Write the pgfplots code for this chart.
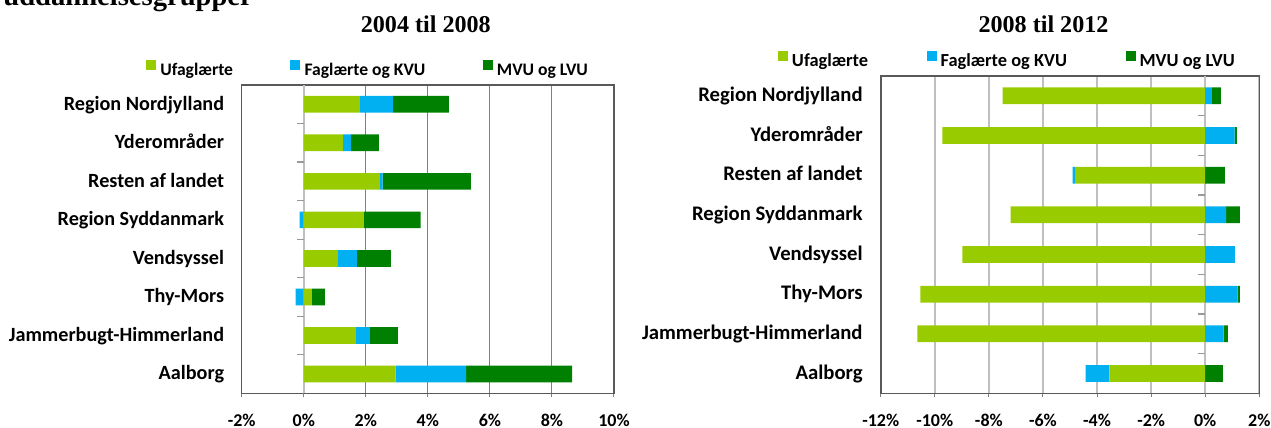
\documentclass[border=0pt]{standalone}
\usepackage{fontspec}
\setmainfont{Carlito}
\newfontfamily\serifbf{Liberation Serif}
\usepackage{pgfplots}
\usepackage{pgfplotstable}
\pgfplotsset{compat=1.18}
\definecolor{cU}{RGB}{153,204,0}
\definecolor{cF}{RGB}{0,176,240}
\definecolor{cM}{RGB}{0,128,0}
\definecolor{bordc}{RGB}{89,89,89}

% idx: 0 = Region Nordjylland ... 7 = Aalborg ; l = Ufaglaerte, b = Faglaerte og KVU, d = MVU og LVU (pct)
\pgfplotstableread{
idx l b d
0 1.81 1.06 1.81
1 1.26 0.26 0.90
2 2.45 0.09 2.85
3 1.94 -0.13 1.83
4 1.10 0.61 1.10
5 0.26 -0.26 0.42
6 1.68 0.45 0.90
7 2.96 2.27 3.42
}\leftdata

\pgfplotstableread{
idx l b d
0 -7.49 0.25 0.33
1 -9.72 1.09 0.08
2 -4.81 -0.09 0.73
3 -7.20 0.77 0.51
4 -8.98 1.10 0.00
5 -10.53 1.20 0.08
6 -10.64 0.68 0.16
7 -3.54 -0.88 0.65
}\rightdata

\pgfplotsset{
  mybars/.style={
    scale only axis, anchor=south west,
    xbar stacked, stack negative=separate, bar width=8.35pt, bar shift=0pt,
    enlargelimits=false,
    y dir=reverse, ymin=-0.5, ymax=7.5, ytick={0,...,7},
    yticklabels={Region Nordjylland,Yderområder,Resten af landet,Region Syddanmark,Vendsyssel,Thy-Mors,Jammerbugt-Himmerland,Aalborg},
    ytick style={draw=none},
    xtick pos=lower, tick align=outside, major tick length=2pt,
    xtick style={draw=black!50, line width=0.5pt},
    axis line style={draw=bordc, line width=0.8pt},
    xmajorgrids,
    extra x ticks={0}, extra x tick labels={},
    extra x tick style={grid=major, major grid style={draw=black!25, line width=1.1pt}},
    xticklabel style={anchor=base, inner sep=0pt, yshift=-14.35pt, font=\fontsize{9}{10}\selectfont\bfseries},
    legend columns=3,
    legend image code/.code={\fill[##1] (0pt,0.3pt) rectangle (5pt,5.3pt);},
  },
  segm/.style={draw=none, fill=#1, forget plot},
}

\newcommand{\bars}[1]{%
  \addplot[segm=cU] table[y=idx, x=l] {#1};
  \addplot[segm=cF] table[y=idx, x=b] {#1};
  \addplot[segm=cM] table[y=idx, x=d] {#1};
  \pgfplotsinvokeforeach{0.5,1.5,2.5,3.5,4.5,5.5,6.5}{\draw[black!40, line width=0.6pt] (axis cs:0,##1) -- ++(-3.5pt,0pt);}
}

\begin{document}
\begin{tikzpicture}
\path[use as bounding box] (0pt,0pt) rectangle (635.5pt,214pt);

\node[font=\serifbf\bfseries\fontsize{14.3}{16}\selectfont, anchor=base east, inner sep=0pt] at (126.65pt,211pt) {uddannelsesgrupper};
\node[font=\serifbf\bfseries\fontsize{12.05}{14}\selectfont, anchor=base, inner sep=0pt] at (212.9pt,197.85pt) {2004 til 2008};
\node[font=\serifbf\bfseries\fontsize{12.05}{14}\selectfont, anchor=base, inner sep=0pt] at (521.75pt,197.85pt) {2008 til 2012};

\begin{axis}[mybars,
  at={(120.85pt,17.35pt)}, width=186.15pt, height=154.15pt,
  xmin=-2, xmax=10, xtick={-2,0,2,4,6,8,10},
  xticklabels={-2\%,0\%,2\%,4\%,6\%,8\%,10\%},
  major grid style={draw=black!50, line width=0.5pt},
  yticklabel style={anchor=base east, inner sep=0pt, xshift=-6.6pt, yshift=-2.9pt, font=\fontsize{10.1}{11}\selectfont\bfseries},
  legend style={at={(-0.2571,1.0503)}, anchor=west, draw=none, fill=none, inner sep=0pt, outer sep=0pt,
    font=\fontsize{8.8}{10}\selectfont\bfseries, nodes={inner sep=0pt},
    /tikz/every odd column/.append style={column sep=2.15pt},
    /tikz/every even column/.append style={column sep=28.6pt}},
]
\addlegendimage{fill=cU, draw=none}\addlegendentry{Ufaglærte}
\addlegendimage{fill=cF, draw=none}\addlegendentry{Faglærte og KVU}
\addlegendimage{fill=cM, draw=none}\addlegendentry{MVU og LVU}
\bars{\leftdata}
\end{axis}

\begin{axis}[mybars,
  at={(440.35pt,17.35pt)}, width=189.3pt, height=158.65pt,
  xmin=-12, xmax=2, xtick={-12,-10,-8,-6,-4,-2,0,2},
  xticklabels={-12\%,-10\%,-8\%,-6\%,-4\%,-2\%,0\%,2\%},
  major grid style={draw=black!25, line width=0.9pt},
  yticklabel style={anchor=base east, inner sep=0pt, xshift=-6.85pt, yshift=-2.9pt, font=\fontsize{10.35}{12}\selectfont\bfseries},
  legend style={at={(-0.2713,1.0489)}, anchor=west, draw=none, fill=none, inner sep=0pt, outer sep=0pt,
    font=\fontsize{9.2}{10}\selectfont\bfseries, nodes={inner sep=0pt},
    /tikz/every odd column/.append style={column sep=2pt},
    /tikz/every even column/.append style={column sep=29.3pt}},
]
\addlegendimage{fill=cU, draw=none}\addlegendentry{Ufaglærte}
\addlegendimage{fill=cF, draw=none}\addlegendentry{Faglærte og KVU}
\addlegendimage{fill=cM, draw=none}\addlegendentry{MVU og LVU}
\bars{\rightdata}
\end{axis}
\end{tikzpicture}
\end{document}
